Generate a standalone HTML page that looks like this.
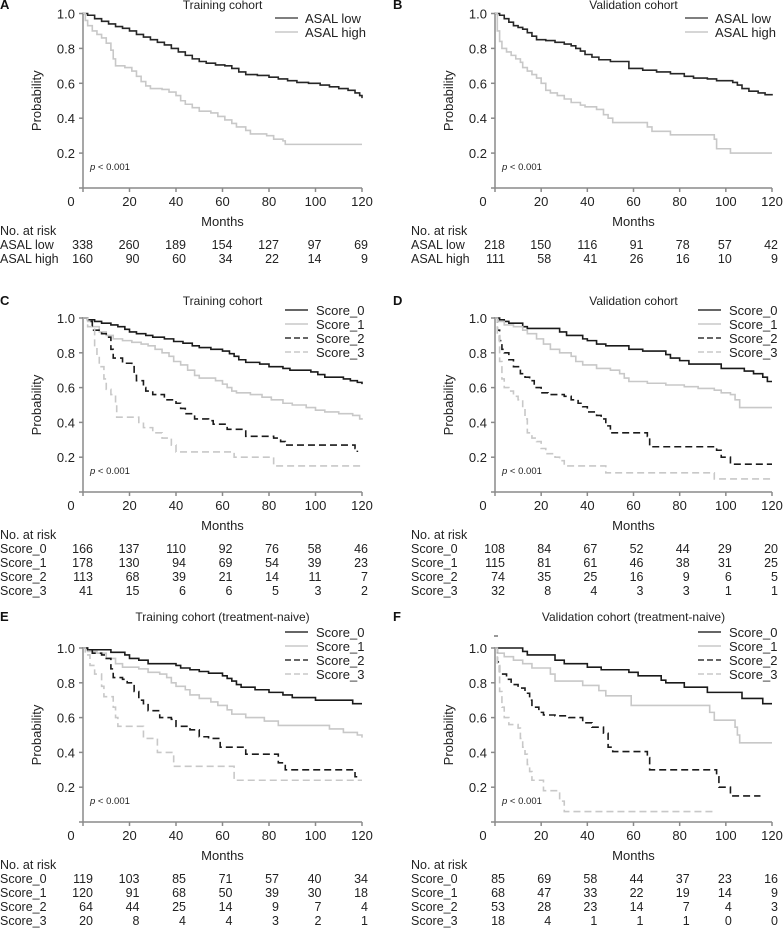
<!DOCTYPE html>
<html><head><meta charset="utf-8">
<style>
html,body{margin:0;padding:0;background:#fff;}
svg{display:block;font-family:"Liberation Sans",Arial,sans-serif;}
</style></head>
<body>
<svg id="fig" width="783" height="952" viewBox="0 0 783 952" xmlns="http://www.w3.org/2000/svg"></svg>
<script>
// ---- Data: survival step points [month, probability] ----
const A_low=[[0,1],[2,0.99],[5,0.97],[8,0.955],[11,0.94],[14,0.925],[17,0.915],[20,0.9],[23,0.88],[26,0.865],[29,0.85],[32,0.835],[35,0.82],[38,0.8],[41,0.78],[44,0.76],[47,0.74],[50,0.725],[53,0.715],[57,0.705],[61,0.7],[64,0.685],[67,0.665],[70,0.65],[75,0.645],[80,0.635],[84,0.625],[88,0.615],[92,0.605],[97,0.6],[102,0.59],[106,0.58],[110,0.57],[114,0.56],[117,0.545],[119,0.53],[120,0.515]];
const A_high=[[0,1],[1,0.96],[2,0.93],[4,0.9],[6,0.88],[8,0.86],[10,0.83],[12,0.79],[13,0.74],[14,0.7],[18,0.69],[21,0.67],[23,0.64],[25,0.61],[27,0.585],[29,0.57],[34,0.565],[37,0.55],[40,0.53],[42,0.5],[44,0.48],[47,0.46],[50,0.44],[55,0.43],[58,0.41],[61,0.39],[64,0.37],[66,0.35],[70,0.33],[72,0.31],[79,0.3],[82,0.28],[86,0.27],[87,0.25],[120,0.25]];
const B_low=[[0,1],[2,0.99],[4,0.97],[6,0.95],[8,0.93],[10,0.92],[12,0.91],[14,0.89],[16,0.87],[18,0.85],[22,0.845],[26,0.835],[30,0.825],[33,0.815],[35,0.8],[37,0.785],[39,0.765],[42,0.75],[45,0.735],[50,0.725],[58,0.685],[64,0.675],[70,0.665],[76,0.655],[82,0.64],[86,0.63],[92,0.625],[96,0.615],[103,0.605],[105,0.59],[107,0.57],[110,0.555],[114,0.545],[117,0.535],[120,0.53]];
const B_high=[[0,1],[1,0.9],[2,0.84],[3,0.8],[5,0.78],[7,0.76],[9,0.74],[11,0.72],[12,0.69],[14,0.67],[16,0.65],[18,0.63],[20,0.6],[22,0.56],[24,0.545],[27,0.53],[30,0.51],[33,0.49],[37,0.475],[39,0.465],[44,0.45],[47,0.42],[49,0.4],[51,0.375],[66,0.35],[68,0.325],[76,0.305],[95,0.28],[96,0.225],[102,0.2],[120,0.2]];
const C_s0=[[0,1],[2,0.99],[5,0.98],[8,0.97],[12,0.96],[15,0.95],[18,0.935],[20,0.92],[23,0.91],[27,0.9],[30,0.89],[35,0.88],[39,0.865],[43,0.855],[47,0.84],[50,0.83],[55,0.82],[60,0.81],[63,0.795],[65,0.78],[67,0.76],[70,0.745],[76,0.735],[80,0.72],[86,0.71],[89,0.7],[98,0.69],[101,0.675],[104,0.66],[112,0.65],[115,0.64],[118,0.63],[120,0.62]];
const C_s1=[[0,1],[2,0.98],[4,0.95],[7,0.92],[10,0.9],[13,0.88],[17,0.87],[21,0.86],[25,0.85],[28,0.84],[31,0.82],[34,0.8],[37,0.78],[39,0.75],[42,0.73],[45,0.7],[48,0.67],[50,0.655],[57,0.64],[60,0.62],[62,0.6],[64,0.58],[66,0.57],[72,0.56],[77,0.545],[81,0.53],[86,0.51],[90,0.5],[96,0.485],[100,0.47],[104,0.46],[110,0.45],[116,0.44],[119,0.42],[120,0.415]];
const C_s2=[[0,1],[2,0.98],[4,0.93],[8,0.91],[10,0.89],[12,0.82],[13,0.77],[17,0.74],[21,0.72],[22,0.67],[23,0.64],[26,0.6],[27,0.58],[30,0.56],[35,0.53],[40,0.51],[42,0.48],[44,0.45],[48,0.42],[54,0.41],[56,0.39],[62,0.36],[70,0.32],[82,0.31],[85,0.29],[87,0.27],[117,0.25],[118,0.23]];
const C_s3=[[0,1],[2,0.95],[5,0.83],[6,0.78],[7,0.72],[9,0.65],[10,0.59],[12,0.56],[14,0.5],[14.5,0.43],[24,0.4],[26,0.37],[30,0.34],[34,0.31],[38,0.27],[40,0.23],[65,0.2],[82,0.15],[120,0.15]];
const D_s0=[[0,1],[2,0.99],[4,0.98],[6,0.97],[12,0.95],[14,0.94],[28,0.92],[31,0.9],[38,0.88],[40,0.87],[44,0.85],[48,0.84],[58,0.82],[64,0.81],[74,0.79],[76,0.77],[80,0.755],[84,0.735],[98,0.71],[108,0.695],[112,0.68],[116,0.66],[118,0.635],[120,0.635]];
const D_s1=[[0,1],[1,0.98],[4,0.96],[8,0.95],[12,0.93],[14,0.91],[18,0.88],[21,0.85],[24,0.82],[28,0.8],[33,0.78],[35,0.75],[38,0.73],[44,0.71],[50,0.7],[54,0.68],[56,0.655],[58,0.635],[66,0.625],[74,0.615],[82,0.605],[88,0.595],[95,0.585],[98,0.57],[102,0.56],[104,0.53],[106,0.485],[120,0.485]];
const D_s2=[[0,1],[1,0.93],[2,0.87],[3,0.82],[4,0.8],[6,0.76],[8,0.72],[11,0.68],[13,0.66],[15,0.64],[17,0.6],[20,0.57],[23,0.56],[30,0.55],[33,0.53],[36,0.51],[38,0.49],[40,0.46],[44,0.44],[46,0.42],[48,0.38],[50,0.34],[66,0.32],[67,0.26],[96,0.24],[98,0.2],[102,0.16],[120,0.16]];
const D_s3=[[0,1],[1,0.9],[2,0.75],[3,0.65],[4,0.6],[6,0.58],[8,0.55],[10,0.53],[12,0.48],[13,0.42],[14,0.34],[16,0.31],[18,0.29],[20,0.25],[22,0.22],[26,0.2],[28,0.18],[30,0.15],[48,0.11],[95,0.075],[120,0.075]];
const E_s0=[[0,1],[2,0.99],[12,0.975],[18,0.96],[20,0.94],[24,0.93],[28,0.91],[40,0.9],[42,0.885],[46,0.875],[50,0.865],[54,0.855],[60,0.84],[62,0.825],[64,0.81],[66,0.79],[68,0.775],[74,0.76],[80,0.745],[86,0.73],[90,0.715],[100,0.7],[116,0.68],[120,0.68]];
const E_s1=[[0,1],[2,0.98],[6,0.97],[10,0.94],[14,0.91],[17,0.89],[24,0.88],[28,0.86],[33,0.85],[36,0.83],[38,0.8],[40,0.78],[44,0.76],[46,0.73],[50,0.71],[55,0.69],[58,0.67],[62,0.645],[64,0.62],[70,0.6],[78,0.58],[84,0.555],[106,0.535],[112,0.515],[118,0.5],[120,0.485]];
const E_s2=[[0,1],[2,0.99],[4,0.97],[8,0.96],[10,0.94],[12,0.88],[13,0.83],[17,0.82],[19,0.8],[22,0.75],[24,0.7],[26,0.68],[28,0.64],[33,0.6],[38,0.59],[40,0.55],[46,0.53],[50,0.49],[54,0.48],[59,0.43],[70,0.39],[84,0.34],[87,0.3],[117,0.26],[118,0.24]];
const E_s3=[[0,1],[1,0.96],[3,0.9],[5,0.85],[8,0.78],[9,0.72],[13,0.66],[14,0.6],[15,0.55],[26,0.48],[32,0.4],[39,0.32],[65,0.24],[120,0.24]];
const F_s0=[[0,1],[12,0.98],[14,0.96],[26,0.93],[30,0.91],[40,0.89],[46,0.875],[58,0.86],[62,0.84],[72,0.815],[74,0.8],[82,0.775],[92,0.745],[107,0.71],[116,0.68],[120,0.68]];
const F_s1=[[0,1],[1,0.97],[4,0.95],[8,0.93],[12,0.91],[16,0.885],[24,0.85],[26,0.81],[38,0.785],[45,0.755],[48,0.725],[59,0.67],[93,0.63],[95,0.585],[104,0.545],[105,0.5],[106,0.455],[120,0.455]];
const F_s2=[[0,1],[1,0.92],[2,0.85],[5,0.82],[7,0.79],[10,0.77],[13,0.74],[15,0.7],[16,0.66],[19,0.63],[21,0.615],[26,0.61],[32,0.6],[38,0.57],[42,0.545],[47,0.51],[49,0.43],[51,0.405],[66,0.37],[67,0.3],[96,0.26],[97,0.2],[102,0.15],[115,0.15]];
const F_s3=[[0,1],[1,0.9],[2,0.75],[3,0.66],[4,0.6],[6,0.56],[10,0.54],[11,0.48],[12,0.43],[13,0.39],[14,0.33],[15,0.29],[16,0.24],[21,0.18],[28,0.12],[30,0.06],[95,0.06]];

// ---- Tick labels ----
const xTicks=[0,20,40,60,80,100,120];
const yTicks=[0.2,0.4,0.6,0.8,1.0];

// ---- Group names ----
const asalGroups=["ASAL low","ASAL high"];
const scoreGroups=["Score_0","Score_1","Score_2","Score_3"];

// ---- Number at risk ----
const A_risk=[[338,260,189,154,127,97,69],[160,90,60,34,22,14,9]];
const B_risk=[[218,150,116,91,78,57,42],[111,58,41,26,16,10,9]];
const C_risk=[[166,137,110,92,76,58,46],[178,130,94,69,54,39,23],[113,68,39,21,14,11,7],[41,15,6,6,5,3,2]];
const D_risk=[[108,84,67,52,44,29,20],[115,81,61,46,38,31,25],[74,35,25,16,9,6,5],[32,8,4,3,3,1,1]];
const E_risk=[[119,103,85,71,57,40,34],[120,91,68,50,39,30,18],[64,44,25,14,9,7,4],[20,8,4,4,3,2,1]];
const F_risk=[[85,69,58,44,37,23,16],[68,47,33,22,19,14,9],[53,28,23,14,7,4,3],[18,4,1,1,1,0,0]];

const NS="http://www.w3.org/2000/svg";
const svg=document.getElementById('fig');
function mk(tag,attrs,parent,text){const e=document.createElementNS(NS,tag);for(const k in attrs)e.setAttribute(k,attrs[k]);if(text!==undefined)e.textContent=text;(parent||svg).appendChild(e);return e;}

const styles=[
 {stroke:"#1a1a1a",dash:"",leg:"#333"},
 {stroke:"#c8c8c8",dash:"",leg:"#c8c8c8"},
 {stroke:"#1a1a1a",dash:"7,4",leg:"#333"},
 {stroke:"#c8c8c8",dash:"7,4",leg:"#c8c8c8"}];
const asalStyles=[{stroke:"#262626",dash:"",leg:"#555"},{stroke:"#c8c8c8",dash:"",leg:"#c8c8c8"}];

const panels=[
 {id:"a",letter:"A",title:"Training cohort",x0:83,x1:362,yTop:13.5,yBot:188,lx:0,letX:0,titleY:5,legY:18,legX:275,names:asalGroups,series:[A_low,A_high],risk:A_risk,st:asalStyles},
 {id:"b",letter:"B",title:"Validation cohort",x0:495,x1:772,yTop:13.5,yBot:188,lx:411,letX:393,titleY:5,legY:18,legX:685,names:asalGroups,series:[B_low,B_high],risk:B_risk,st:asalStyles},
 {id:"c",letter:"C",title:"Training cohort",x0:83,x1:362,yTop:318,yBot:492,lx:0,letX:0,titleY:301,legY:310,legX:285,names:scoreGroups,series:[C_s0,C_s1,C_s2,C_s3],risk:C_risk,st:styles},
 {id:"d",letter:"D",title:"Validation cohort",x0:495,x1:772,yTop:318,yBot:492,lx:411,letX:393,titleY:301,legY:310,legX:698,names:scoreGroups,series:[D_s0,D_s1,D_s2,D_s3],risk:D_risk,st:styles},
 {id:"e",letter:"E",title:"Training cohort (treatment-naive)",x0:83,x1:362,yTop:648,yBot:822,lx:0,letX:0,titleY:617,legY:632,legX:285,names:scoreGroups,series:[E_s0,E_s1,E_s2,E_s3],risk:E_risk,st:styles},
 {id:"f",letter:"F",title:"Validation cohort (treatment-naive)",x0:495,x1:772,yTop:648,yBot:822,lx:411,letX:393,titleY:617,legY:632,legX:698,names:scoreGroups,series:[F_s0,F_s1,F_s2,F_s3],risk:F_risk,st:styles}
];

panels.forEach(p=>{
 const g=mk('g',{});
 
 
 const X=t=>p.x0+(t/120)*(p.x1-p.x0);
 const Y=v=>p.yBot-(v)*(p.yBot-p.yTop);
 const cx=(p.x0+p.x1)/2;
 const lt=mk('text',{x:p.letX,y:p.titleY+4,'font-size':13,'font-weight':'bold',fill:'#111'},g,p.letter);
 
 const tt=mk('text',{x:cx,y:p.titleY+4,'font-size':12,'text-anchor':'middle',fill:'#222'},g,p.title);
 
 const ax=mk('g',{stroke:'#8a8a8a','stroke-width':1.5,fill:'none'},g);
 
 mk('line',{x1:p.x0,y1:p.yTop-1,x2:p.x0,y2:p.yBot},ax);
 mk('line',{x1:p.x0-4,y1:p.yBot,x2:p.x1,y2:p.yBot},ax);
 xTicks.forEach(t=>{
  mk('line',{x1:X(t),y1:p.yBot,x2:X(t),y2:p.yBot+4},ax);
  const tl=mk('text',{x:X(t)+(t===0?-12:0),y:p.yBot+18,'font-size':13,'text-anchor':'middle',fill:'#222'},g,String(t));
  
 });
 yTicks.forEach(v=>{
  mk('line',{x1:p.x0-4,y1:Y(v),x2:p.x0,y2:Y(v)},ax);
  const yl=mk('text',{x:p.x0-8,y:Y(v)+5,'font-size':13,'text-anchor':'end',fill:'#222'},g,v.toFixed(1));
  
 });
 if(p.id==="f"){
  const dash=mk('line',{x1:p.x0-1,y1:p.yTop-12,x2:p.x0+3,y2:p.yTop-12,stroke:'#333','stroke-width':1},g);
  
 }
 const ylab=mk('text',{x:0,y:0,'font-size':13,'text-anchor':'middle',fill:'#222',transform:`translate(${p.x0-42},${(p.yTop+p.yBot)/2}) rotate(-90)`},g,'Probability');
 
 const xlab=mk('text',{x:cx,y:p.yBot+38,'font-size':13,'text-anchor':'middle',fill:'#222'},g,'Months');
 
 const pv=mk('text',{x:p.x0+7,y:p.yBot-18,'font-size':9.5,fill:'#222'},g);
 
 mk('tspan',{'font-style':'italic'},pv,'p');
 mk('tspan',{},pv,' < 0.001');
 p.series.forEach((s,i)=>{
  let d='M'+X(s[0][0])+','+Y(s[0][1]);
  for(let k=1;k<s.length;k++){d+=' H'+X(s[k][0])+' V'+Y(s[k][1]);}
  const path=mk('path',{d:d,fill:'none',stroke:p.st[i].stroke,'stroke-width':1.6,'stroke-dasharray':p.st[i].dash},g);
  
  
 });
 p.names.forEach((n,i)=>{
  const y=p.legY+i*14;
  const le=mk('g',{},g);
  
  mk('line',{x1:p.legX,y1:y,x2:p.legX+23,y2:y,stroke:p.st[i].leg,'stroke-width':1.6,'stroke-dasharray':p.st[i].dash?'6,3':''},le);
  mk('text',{x:p.legX+(p.names.length===2?30:31),y:y+5,'font-size':13,fill:'#222'},le,n);
 });
 const rt=mk('g',{'font-size':12.5,fill:'#222'},g);
 
 mk('text',{x:p.lx,y:p.yBot+47},rt,'No. at risk');
 p.risk.forEach((row,r)=>{
  const y=p.yBot+61+r*14;
  mk('text',{x:p.lx,y:y},rt,p.names[r]);
  row.forEach((v,c)=>{
   mk('text',{x:X(xTicks[c])+(c<5?10:6),y:y,'text-anchor':'end'},rt,String(v));
  });
 });
});
</script>
</body></html>
